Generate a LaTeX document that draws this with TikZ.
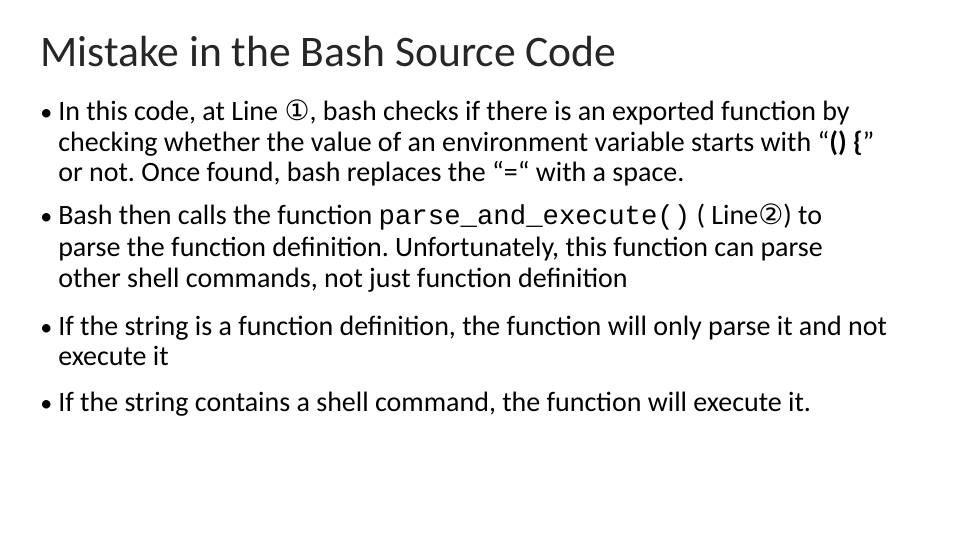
\documentclass[tikz,border=0pt]{standalone}
\usepackage{fontspec}
\setmainfont{Carlito}
\setmonofont{Liberation Mono}
\newfontfamily\symfont{DejaVu Sans}
\frenchspacing
\begin{document}
\begin{tikzpicture}[x=0.75pt, y=-0.75pt,
    title/.style={anchor=base west, inner sep=0pt, font=\fontsize{32.7}{38}\selectfont, text=black!85},
    line/.style={anchor=base west, inner sep=0pt, font=\fontsize{21}{25}\selectfont},
    dot/.style={anchor=base west, inner sep=0pt, font=\fontsize{18}{20}\selectfont},
]
\useasboundingbox (0,0) rectangle (960,540);

% Title
\node[title] (head) at (40,66) {Mistake in the Bash Source Code};

% First bullet
\node[dot] (b1) at (40,120) {•};
\node[line] (l11) at (58,120) {In this code, at Line {\symfont ①}, bash checks if there is an exported function by};
\node[line] (l12) at (58,151) {checking whether the value of an environment variable starts with “\textbf{() \{}”};
\node[line] (l13) at (58,181) {or not. Once found, bash replaces the “=“ with a space.};

% Second bullet
\node[dot] (b2) at (40,224) {•};
\node[line] (l21) at (58,224) {Bash then calls the function {\fontsize{20.5}{25}\selectfont\texttt{parse\_and\_execute()}} ( Line{\symfont ②}) to};
\node[line] (l22) at (58,256) {parse the function definition. Unfortunately, this function can parse};
\node[line] (l23) at (58,287) {other shell commands, not just function definition};

% Third bullet
\node[dot] (b3) at (40,335) {•};
\node[line] (l31) at (58,335) {If the string is a function definition, the function will only parse it and not};
\node[line] (l32) at (58,365) {execute it};

% Fourth bullet
\node[dot] (b4) at (40,411) {•};
\node[line] (l41) at (58,411) {If the string contains a shell command, the function will execute it.};
\end{tikzpicture}
\end{document}
